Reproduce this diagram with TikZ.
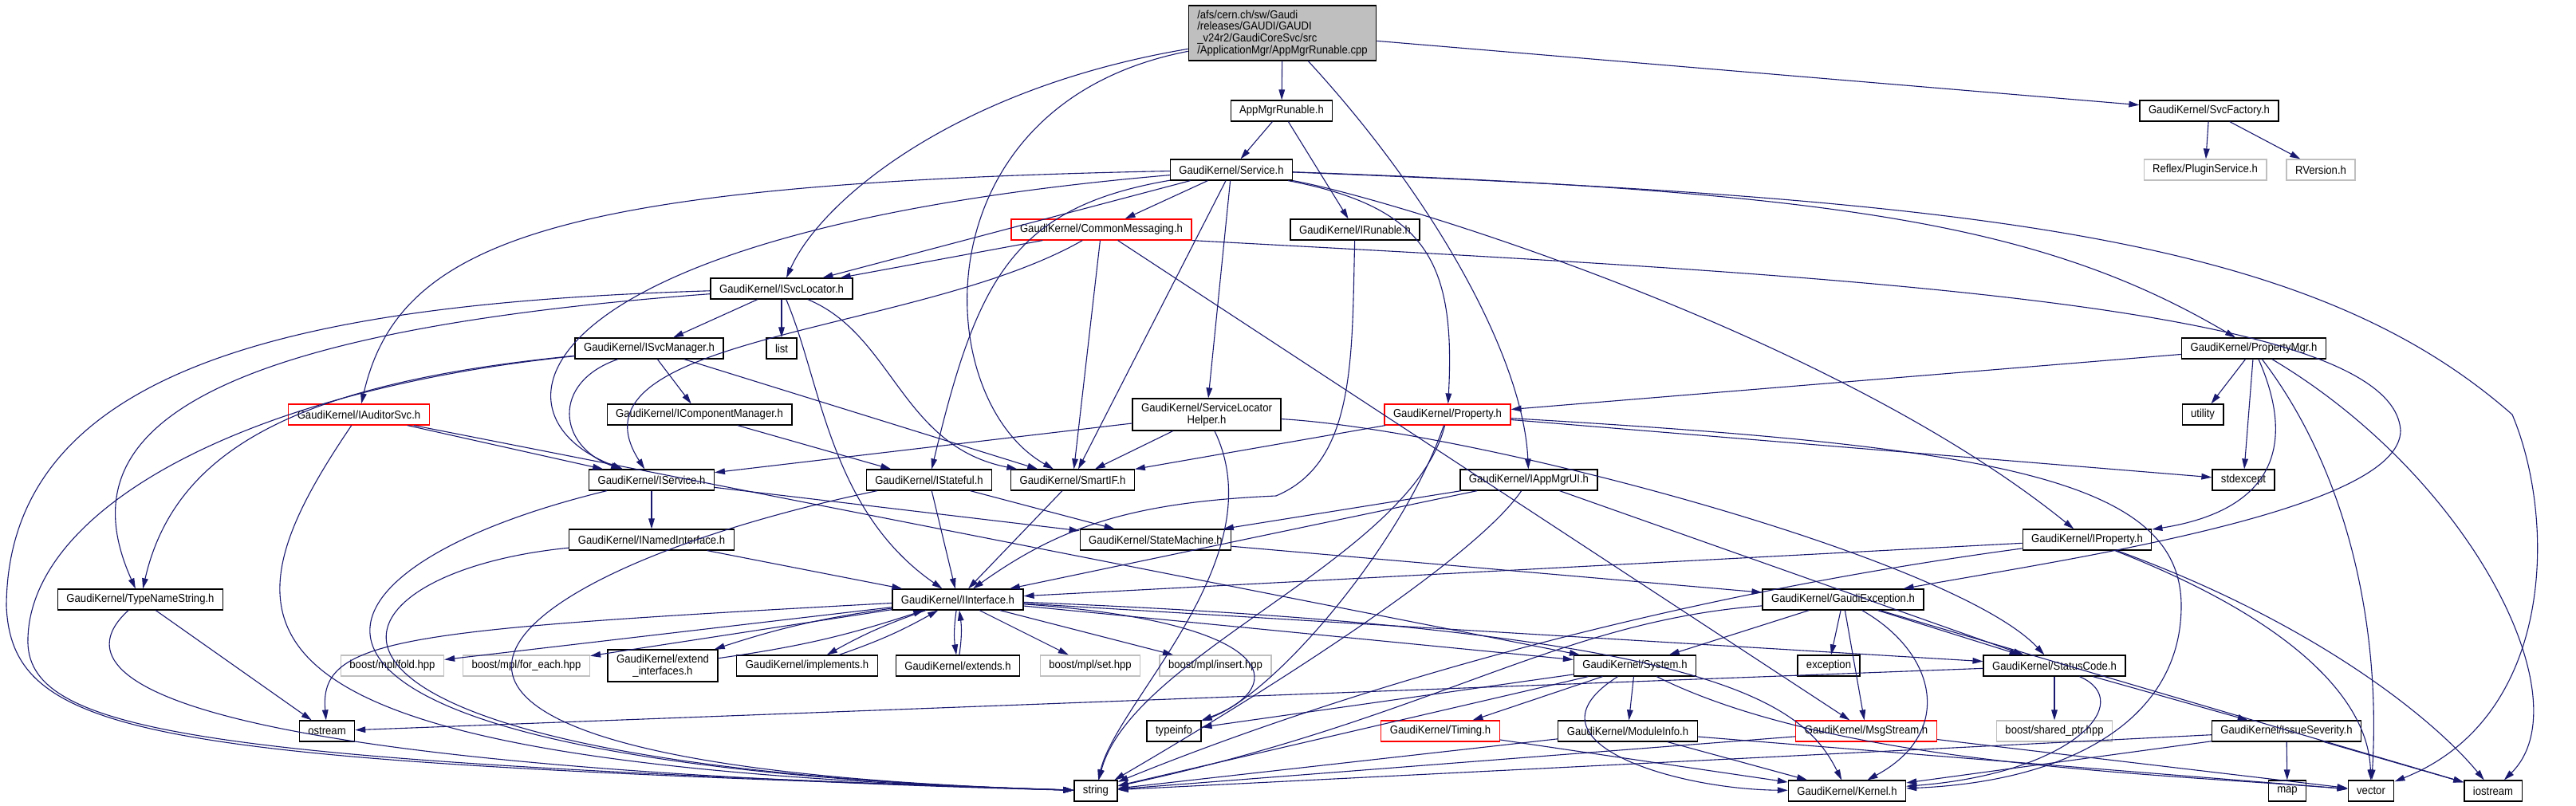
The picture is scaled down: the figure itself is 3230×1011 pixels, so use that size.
\documentclass[tikz,border=0pt]{standalone}
\usepackage{fontspec}
\setmainfont{Liberation Sans}[FakeStretch=0.91]
\usetikzlibrary{arrows.meta}
\definecolor{edgeblue}{HTML}{191970}
\definecolor{boxgray}{HTML}{BFBFBF}
\begin{document}
\begin{tikzpicture}[x=0.5pt,y=-0.5pt,
    file/.style={draw=black,line width=0.6pt,inner xsep=5.5pt,inner ysep=0pt,
      minimum height=13pt,font=\fontsize{7.2pt}{7.4pt}\selectfont},
    trunc/.style={file,draw=red},
    extfile/.style={file,draw=boxgray},
    twoline/.style={file,align=center,minimum height=20pt},
    rootfile/.style={file,fill=boxgray,align=left,minimum height=34.5pt}]
  \useasboundingbox (0,0) rectangle (3230,1011);
  \draw
    (1608,41.5) node[rootfile] (cpp){/afs/cern.ch/sw/Gaudi\\/releases/GAUDI/GAUDI\\\_v24r2/GaudiCoreSvc/src\\/ApplicationMgr/AppMgrRunable.cpp}
    (1607,139) node[file] (apprun){AppMgrRunable.h}
    (2770,139) node[file] (svcfac){GaudiKernel/SvcFactory.h}
    (1544,213) node[file] (service){GaudiKernel/Service.h}
    (2765,213) node[extfile] (plugin){Reflex/PluginService.h}
    (2910,213) node[extfile] (rversion){RVersion.h}
    (1381,288) node[trunc] (commsg){GaudiKernel/CommonMessaging.h}
    (1699,288) node[file] (irunable){GaudiKernel/IRunable.h}
    (980,362) node[file] (isvcloc){GaudiKernel/ISvcLocator.h}
    (814,437) node[file] (isvcmgr){GaudiKernel/ISvcManager.h}
    (980,437) node[file] (list){list}
    (2826,437) node[file] (propmgr){GaudiKernel/PropertyMgr.h}
    (450,520) node[trunc] (iauditor){GaudiKernel/IAuditorSvc.h}
    (877,520) node[file] (icompmgr){GaudiKernel/IComponentManager.h}
    (1513,520) node[twoline] (slhelper){GaudiKernel/ServiceLocator\\Helper.h}
    (1815,520) node[trunc] (property){GaudiKernel/Property.h}
    (2762,520) node[file] (utility){utility}
    (817,602) node[file] (iservice){GaudiKernel/IService.h}
    (1165,602) node[file] (istateful){GaudiKernel/IStateful.h}
    (1345,602) node[file] (smartif){GaudiKernel/SmartIF.h}
    (1917,602) node[file] (iappmgrui){GaudiKernel/IAppMgrUI.h}
    (2813,602) node[file] (stdexcept){stdexcept}
    (817,677) node[file] (inamed){GaudiKernel/INamedInterface.h}
    (1449,677) node[file] (statemach){GaudiKernel/StateMachine.h}
    (2617,677) node[file] (iproperty){GaudiKernel/IProperty.h}
    (176,752) node[file] (typename){GaudiKernel/TypeNameString.h}
    (1201,752) node[file] (iinterface){GaudiKernel/IInterface.h}
    (2311,752) node[file] (gaudiexc){GaudiKernel/GaudiException.h}
    (492,835) node[extfile] (mplfold){boost/mpl/fold.hpp}
    (660,835) node[extfile] (mplforeach){boost/mpl/for\_each.hpp}
    (831,835) node[twoline] (extendif){GaudiKernel/extend\\\_interfaces.h}
    (1012,835) node[file] (implements){GaudiKernel/implements.h}
    (1201,835) node[file] (extends){GaudiKernel/extends.h}
    (1367,835) node[extfile] (mplset){boost/mpl/set.hpp}
    (1524,835) node[extfile] (mplinsert){boost/mpl/insert.hpp}
    (2050,835) node[file] (system){GaudiKernel/System.h}
    (2293,835) node[file] (exception){exception}
    (2576,835) node[file] (statuscode){GaudiKernel/StatusCode.h}
    (410,917) node[file] (ostream){ostream}
    (1472,917) node[file] (typeinfo){typeinfo}
    (1806,917) node[trunc] (timing){GaudiKernel/Timing.h}
    (2041,917) node[file] (moduleinfo){GaudiKernel/ModuleInfo.h}
    (2340,917) node[trunc] (msgstream){GaudiKernel/MsgStream.h}
    (2576,917) node[extfile] (sharedptr){boost/shared\_ptr.hpp}
    (2867,917) node[file] (issuesev){GaudiKernel/IssueSeverity.h}
    (1374,992) node[file] (string){string}
    (2316,992) node[file] (kernel){GaudiKernel/Kernel.h}
    (2868,992) node[file] (map){map}
    (2973,992) node[file] (vector){vector}
    (3126,992) node[file] (iostream){iostream};
  \begin{scope}[-{Triangle[length=6.5pt,width=3.8pt]},draw=edgeblue,line width=0.55pt]
    % AppMgrRunable.cpp
    \draw (cpp) to (apprun);
    \draw (cpp) to (svcfac);
    \draw (cpp) .. controls (1200,110) and (1030,250) .. (isvcloc);
    \draw (cpp) .. controls (1150,130) and (1165,500) .. (smartif);
    \draw (cpp) .. controls (1800,250) and (1910,450) .. (iappmgrui);
    \draw (apprun) to (service);
    \draw (apprun) to (irunable);
    \draw (svcfac) to (plugin);
    \draw (svcfac) to (rversion);
    % Service.h
    \draw (service) .. controls (700,230) and (500,300) .. (iauditor);
    \draw (service) .. controls (650,290) and (600,520) .. (iservice);
    \draw (service) to (isvcloc);
    \draw (service) .. controls (1270,260) and (1225,350) .. (istateful);
    \draw (service) to (commsg);
    \draw (service) to (smartif);
    \draw (service) to (slhelper);
    \draw (service) .. controls (1790,260) and (1825,330) .. (property);
    \draw (service.south east) .. controls (1750,250) and (2300,420) .. (iproperty);
    \draw (service) .. controls (2300,240) and (2560,280) .. (propmgr);
    \draw (service) .. controls (2500,250) and (2900,300) .. (3150,520)
      .. controls (3205,650) and (3205,900) .. (vector);
    % CommonMessaging.h
    \draw (commsg) to (isvcloc);
    \draw (commsg) .. controls (1150,420) and (700,420) .. (iservice);
    \draw (commsg) to (smartif);
    \draw (commsg) to (msgstream);
    \draw (commsg.south east) .. controls (2300,345) and (3000,380) .. (3010,540)
      .. controls (3010,640) and (2600,700) .. (gaudiexc);
    \draw (irunable) .. controls (1695,450) and (1700,580) .. (1600,622)
      .. controls (1420,630) and (1330,660) .. (iinterface);
    % ISvcLocator.h, ISvcManager.h
    \draw (isvcloc) to (isvcmgr);
    \draw (isvcloc) to (list);
    \draw (isvcloc) .. controls (1030,480) and (1040,640) .. (iinterface);
    \draw (isvcloc) .. controls (1120,420) and (1130,560) .. (smartif);
    \draw (isvcloc) .. controls (200,420) and (90,560) .. (typename);
    \draw (isvcloc) .. controls (400,380) and (10,450) .. (8,760)
      .. controls (15,930) and (200,955) .. (string);
    \draw (isvcmgr) to (icompmgr);
    \draw (isvcmgr) to (smartif);
    \draw (isvcmgr) .. controls (690,480) and (700,560) .. (iservice);
    \draw (isvcmgr) .. controls (380,480) and (220,560) .. (typename);
    \draw (isvcmgr) .. controls (300,490) and (40,640) .. (35,800)
      .. controls (30,920) and (250,955) .. (string);
    % PropertyMgr.h
    \draw (propmgr) to (utility);
    \draw (propmgr) to (stdexcept);
    \draw (propmgr) to (property);
    \draw (propmgr) .. controls (2880,560) and (2850,640) .. (iproperty);
    \draw (propmgr) .. controls (2950,600) and (2985,800) .. (vector);
    \draw (propmgr) .. controls (3100,600) and (3240,880) .. (iostream);
    % IAuditorSvc.h, IComponentManager.h, ServiceLocatorHelper.h
    \draw (iauditor) to (iservice);
    \draw (iauditor) to (system);
    \draw (iauditor) .. controls (260,800) and (260,960) .. (string);
    \draw (icompmgr) to (istateful);
    \draw (slhelper) to (iservice);
    \draw (slhelper) to (smartif);
    \draw (slhelper) .. controls (1850,540) and (2450,700) .. (statuscode);
    \draw (slhelper) .. controls (1600,700) and (1400,880) .. (string);
    % Property.h
    \draw (property) to (smartif);
    \draw (property) to (stdexcept);
    \draw (property) .. controls (1760,680) and (1600,870) .. (typeinfo);
    \draw (property) .. controls (1770,700) and (1420,820) .. (string);
    \draw (property) .. controls (2500,560) and (2735,600) .. (2735,760)
      .. controls (2735,900) and (2600,980) .. (kernel);
    % IService.h, IStateful.h, SmartIF.h, IAppMgrUI.h
    \draw (iservice) to (inamed);
    \draw (iservice) to (statemach);
    \draw (iservice) .. controls (330,720) and (250,960) .. (string);
    \draw (istateful) to (iinterface);
    \draw (istateful) to (statemach);
    \draw (istateful) .. controls (600,720) and (300,960) .. (string);
    \draw (smartif) to (iinterface);
    \draw (iappmgrui) to (iinterface);
    \draw (iappmgrui) to (statemach);
    \draw (iappmgrui) .. controls (1850,700) and (1600,860) .. (string);
    \draw (iappmgrui) to (statuscode);
    % INamedInterface.h, StateMachine.h, IProperty.h
    \draw (inamed) to (iinterface);
    \draw (inamed) .. controls (380,720) and (280,960) .. (string);
    \draw (statemach) to (gaudiexc);
    \draw (iproperty) to (iinterface);
    \draw (iproperty) .. controls (2000,760) and (1600,900) .. (string);
    \draw (iproperty) .. controls (2880,780) and (2970,880) .. (vector);
    \draw (iproperty) .. controls (2900,780) and (3050,900) .. (iostream);
    \draw (typename) to (ostream);
    \draw (typename) .. controls (90,830) and (100,960) .. (string);
    % IInterface.h
    \draw (iinterface) to[bend right=5] (extendif);
    \draw (extendif) to[bend right=5] (iinterface);
    \draw (iinterface) to[bend right=5] (implements);
    \draw (implements) to[bend right=5] (iinterface);
    \draw (iinterface) to[bend right=8] (extends);
    \draw (extends) to[bend right=8] (iinterface);
    \draw (iinterface) to (mplfold);
    \draw (iinterface) to (mplforeach);
    \draw (iinterface) .. controls (500,790) and (400,800) .. (ostream);
    \draw (iinterface) to (mplset);
    \draw (iinterface) to (mplinsert);
    \draw (iinterface) to (system);
    \draw (iinterface) to (statuscode);
    \draw (iinterface) .. controls (2150,790) and (2260,880) .. (kernel);
    \draw (iinterface) .. controls (1600,780) and (1620,860) .. (typeinfo);
    % GaudiException.h
    \draw (gaudiexc) to (system);
    \draw (gaudiexc) to (exception);
    \draw (gaudiexc) to (msgstream);
    \draw (gaudiexc) to (statuscode);
    \draw (gaudiexc) to (iostream);
    \draw (gaudiexc) .. controls (2430,820) and (2450,920) .. (kernel);
    \draw (gaudiexc) .. controls (1950,780) and (1800,900) .. (string);
    % System.h, StatusCode.h
    \draw (system) to (timing);
    \draw (system) to (moduleinfo);
    \draw (system) .. controls (1900,930) and (2100,990) .. (kernel);
    \draw (system) to (typeinfo);
    \draw (system) to (string);
    \draw (system) .. controls (2300,960) and (2700,970) .. (vector);
    \draw (statuscode) to (sharedptr);
    \draw (statuscode) to (issuesev);
    \draw (statuscode) to (ostream);
    \draw (statuscode) .. controls (2680,880) and (2600,970) .. (kernel);
    % bottom rows
    \draw (timing) to (kernel);
    \draw (moduleinfo) to (kernel);
    \draw (moduleinfo) to (string);
    \draw (moduleinfo) to (vector);
    \draw (msgstream) to (string);
    \draw (msgstream) to (vector);
    \draw (issuesev) to (map);
    \draw (issuesev) to (iostream);
    \draw (issuesev) to (kernel);
    \draw (issuesev) to (string);
  \end{scope}
\end{tikzpicture}
\end{document}
